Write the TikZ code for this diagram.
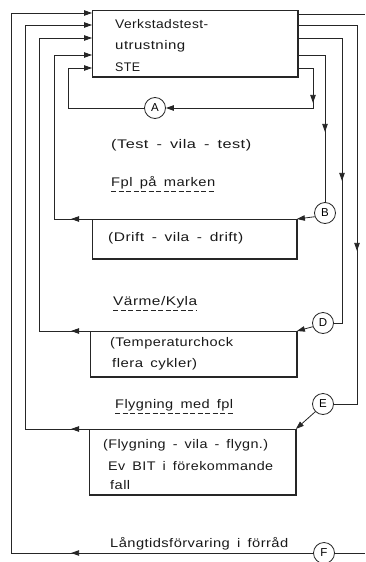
\documentclass[tikz,border=0pt]{standalone}
\usepackage{fontspec}
\setmainfont{Liberation Sans}[LetterSpace=3,WordSpace=1.6]
\usetikzlibrary{arrows.meta,decorations.markings}
\newcommand\fitw[2]{\resizebox{#1pt}{\height}{#2}}
\tikzset{
  ln/.style={line width=0.8pt, draw=black!85},
  tip/.style={-{Triangle[length=8pt,width=5.5pt]}},
  boxx/.style={draw=black!85, line width=0.9pt, rectangle, anchor=north west, inner sep=0pt},
  shadowedge/.style={line width=1.8pt, draw=black!85},
  circ/.style={circle, draw=black!85, line width=0.8pt, minimum size=21pt, inner sep=0pt, font=\fontsize{11.5}{11.5}\selectfont},
  lbl/.style={anchor=west, inner sep=0pt, font=\fontsize{12.5}{14}\selectfont, text=black!90},
  uline/.style={line width=0.7pt, dash pattern=on 5pt off 2.5pt, draw=black!85},
  midl/.style={postaction=decorate, decoration={markings, mark=at position #1 with {\arrow{Triangle[length=8pt,width=5.5pt]}}}},
}
\begin{document}
\begin{tikzpicture}[x=1pt,y=-1pt]
\useasboundingbox (0,0) rectangle (365,562);
% boxes
\node[boxx, minimum width=205pt, minimum height=66pt] (STE) at (92,10) {};
\node[boxx, minimum width=204pt, minimum height=39pt] (Drift) at (92,219) {};
\node[boxx, minimum width=206pt, minimum height=45pt] (Temp) at (90,331) {};
\node[boxx, minimum width=206pt, minimum height=65pt] (Fly) at (89,429) {};
\foreach \b in {STE,Drift,Temp,Fly}{
  \draw[shadowedge] (\b.north east) -- (\b.south east) -- (\b.south west);
}
% circles
\node[circ] (A) at (155,108) {A};
\node[circ] (B) at (325,213) {B};
\node[circ] (D) at (323,323) {D};
\node[circ] (E) at (323,404) {E};
\node[circ] (F) at (324,553) {F};
% texts
\node[lbl] (t1) at (115,24) {\fitw{93}{Verkstadstest-}};
\node[lbl] (t2) at (115,46) {\fitw{70}{utrustning}};
\node[lbl] (t3) at (115,67) {\fitw{25}{STE}};
\node[lbl] (t4) at (111,145) {\fitw{140}{(Test - vila - test)}};
\node[lbl] (t5) at (111,183) {\fitw{104}{Fpl på marken}};
\node[lbl] (t6) at (108,238) {\fitw{135}{(Drift - vila - drift)}};
\node[lbl] (t7) at (113,302) {\fitw{84}{Värme/Kyla}};
\node[lbl] (t8) at (110,343) {\fitw{123}{(Temperaturchock}};
\node[lbl] (t9) at (112,364) {\fitw{85}{flera cykler)}};
\node[lbl] (t10) at (115,405) {\fitw{118}{Flygning med fpl}};
\node[lbl] (t11) at (103,445) {\fitw{165}{(Flygning - vila - flygn.)}};
\node[lbl] (t12) at (108,466) {\fitw{165}{Ev BIT i förekommande}};
\node[lbl] (t13) at (110,485) {\fitw{20}{fall}};
\node[lbl] (t14) at (110,544) {\fitw{178}{Långtidsförvaring i förråd}};
% underlines
\draw[uline] ([yshift=-2pt]t5.south west) -- ([yshift=-2pt]t5.south east);
\draw[uline] ([yshift=-2pt]t7.south west) -- ([yshift=-2pt]t7.south east);
\draw[uline] ([yshift=-2pt]t10.south west) -- ([yshift=-2pt]t10.south east);
% free ends
\coordinate (rtop) at (365,14);
\coordinate (rbot) at (365,553);
% F loop
\draw[ln] (STE.east |- 0,14) -- (rtop);
\draw[ln] (F.east) -- (rbot);
\draw[ln, tip, midl=242pt] (F.west) -| (11,13) -- (STE.west |- 0,13);
% E loop
\draw[ln, midl=285pt] (STE.east |- 0,25) -| (357,404) -- (E.east);
\draw[ln, tip] (E.225) -- (Fly.north east);
\draw[ln, tip, midl=18pt] (Fly.north west) -| (25,25) -- (STE.west |- 0,25);
% D loop
\draw[ln, midl=187pt] (STE.east |- 0,38) -| (342,323) -- (D.east);
\draw[ln, tip] (D.200) -- (Temp.north east);
\draw[ln, tip, midl=19pt] (Temp.north west) -| (39,38) -- (STE.west |- 0,38);
% B loop
\draw[ln, midl=104pt] (STE.east |- 0,55) -| (B.north);
\draw[ln, tip] (B.200) -- (Drift.north east);
\draw[ln, tip, midl=21pt] (Drift.north west) -| (54,55) -- (STE.west |- 0,55);
% A loop
\draw[ln, tip, midl=50pt] (STE.east |- 0,68) -| (313,108) -- (A.east);
\draw[ln, tip] (A.west) -| (68,68) -- (STE.west |- 0,68);
\end{tikzpicture}
\end{document}
